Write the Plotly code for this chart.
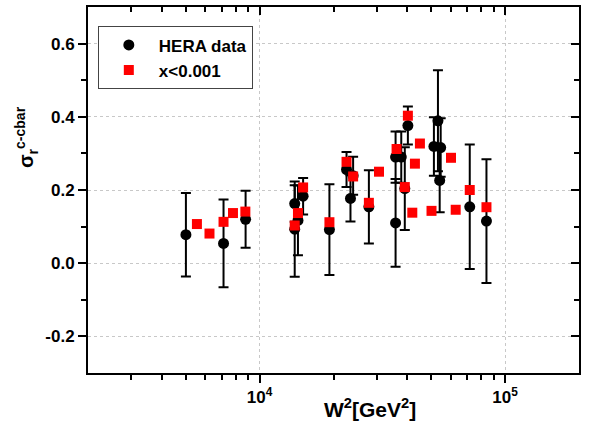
import plotly.graph_objects as go

# HERA data (black circles with error bars)
hera_w2 = [5010, 7130, 8770, 13900, 13900, 14330, 15040, 19250, 22600, 23450, 24040,
           27870, 35800, 35800, 37760, 39030, 40180, 51290, 53270, 54140, 54650,
           71780, 83960]
hera_sigma = [0.078, 0.054, 0.120, 0.093, 0.163, 0.117, 0.183, 0.092, 0.256, 0.177, 0.239,
              0.154, 0.110, 0.290, 0.290, 0.204, 0.376, 0.319, 0.389, 0.226, 0.316,
              0.154, 0.115]
hera_err = [0.114, 0.120, 0.078, 0.130, 0.050, 0.095, 0.050, 0.124, 0.048, 0.063, 0.052,
            0.100, 0.120, 0.070, 0.070, 0.113, 0.052, 0.080, 0.138, 0.087, 0.080,
            0.170, 0.169]

# model x<0.001 (red squares)
model_w2 = [5555, 6250, 7130, 7790, 8750, 13900, 14330, 15040, 19250, 22600, 24040,
            27870, 30650, 36140, 39030, 40180, 41880, 42920, 44980, 50150, 60200,
            62920, 71780, 83960]
model_sigma = [0.107, 0.081, 0.113, 0.137, 0.141, 0.103, 0.137, 0.207, 0.112, 0.277, 0.237,
               0.165, 0.250, 0.312, 0.208, 0.403, 0.138, 0.272, 0.327, 0.143, 0.288,
               0.146, 0.200, 0.153]

x_major = [1e4, 1e5]
x_major_text = ["10<sup>4</sup>", "10<sup>5</sup>"]
x_minor = [3000, 4000, 5000, 6000, 7000, 8000, 9000,
           20000, 30000, 40000, 50000, 60000, 70000, 80000, 90000]
y_major = [-0.2, 0.0, 0.2, 0.4, 0.6]
y_major_text = ["-0.2", "0.0", "0.2", "0.4", "0.6"]
y_minor = [-0.1, 0.1, 0.3, 0.5]

FONT = "Liberation Sans"

fig = go.Figure()
fig.add_trace(go.Scatter(
    x=hera_w2, y=hera_sigma, mode="markers", name="HERA data",
    marker=dict(symbol="circle", size=11, color="black"),
    error_y=dict(type="data", array=hera_err, visible=True, color="black",
                 thickness=2, width=5),
))
fig.add_trace(go.Scatter(
    x=model_w2, y=model_sigma, mode="markers", name="x<0.001",
    marker=dict(symbol="square", size=10, color="#ff0000"),
))
# invisible trace on mirrored axes (top / right with inward ticks)
fig.add_trace(go.Scatter(x=[], y=[], xaxis="x2", yaxis="y2", showlegend=False,
                         hoverinfo="skip"))

xr = [3.30103, 5.30103]
yr = [-0.3, 0.7]
tickfont = dict(family=FONT, size=17, color="black", weight="bold")

fig.update_layout(
    width=592, height=427,
    margin=dict(l=88, r=13, t=7, b=54),
    paper_bgcolor="white", plot_bgcolor="white",
    showlegend=True,
    legend=dict(x=0.02, y=0.947, xanchor="left", yanchor="top",
                bgcolor="white", bordercolor="#444444", borderwidth=1,
                font=dict(family=FONT, size=17, color="black", weight="bold"),
                itemwidth=50, tracegroupgap=0),
    xaxis=dict(type="log", range=xr, tickmode="array", tickvals=x_major,
               ticktext=x_major_text,
               ticks="outside", ticklen=8, tickwidth=2, tickcolor="black",
               showline=True, linewidth=2, linecolor="black", mirror=False,
               showgrid=True, gridcolor="#c8c8c8", griddash="dot", gridwidth=1,
               zeroline=False, tickfont=tickfont,
               minor=dict(tickvals=x_minor, ticks="outside", ticklen=5,
                          tickwidth=2, tickcolor="black", showgrid=False)),
    xaxis2=dict(type="log", range=xr, overlaying="x", side="top", matches="x",
                tickvals=x_major, showticklabels=False,
                ticks="inside", ticklen=8, tickwidth=2, tickcolor="black",
                showline=True, linewidth=2, linecolor="black",
                showgrid=False, zeroline=False,
                minor=dict(tickvals=x_minor, ticks="inside", ticklen=5,
                           tickwidth=2, tickcolor="black", showgrid=False)),
    yaxis=dict(range=yr, tickmode="array", tickvals=y_major, ticktext=y_major_text,
               ticks="outside", ticklen=8, tickwidth=2, tickcolor="black",
               showline=True, linewidth=2, linecolor="black", mirror=False,
               showgrid=True, gridcolor="#c8c8c8", griddash="dot", gridwidth=1,
               zeroline=False, tickfont=tickfont,
               minor=dict(tickvals=y_minor, ticks="outside", ticklen=5,
                          tickwidth=2, tickcolor="black", showgrid=False)),
    yaxis2=dict(range=yr, overlaying="y", side="right", matches="y",
                tickvals=y_major, showticklabels=False,
                ticks="inside", ticklen=8, tickwidth=2, tickcolor="black",
                showline=True, linewidth=2, linecolor="black",
                showgrid=False, zeroline=False,
                minor=dict(tickvals=y_minor, ticks="inside", ticklen=5,
                           tickwidth=2, tickcolor="black", showgrid=False)),
    annotations=[
        dict(text="W<sup>2</sup>[GeV<sup>2</sup>]", xref="paper", yref="paper",
             x=(370 - 88) / 491, y=-(408 - 373.3) / 366.6, xanchor="center",
             yanchor="middle", showarrow=False,
             font=dict(family=FONT, size=21, color="black", weight="bold")),
        dict(text="σ<sub>r</sub><sup>c-cbar</sup>", xref="paper", yref="paper",
             x=-(88 - 26) / 491, y=(373.3 - 137) / 366.6, xanchor="center",
             yanchor="middle", textangle=-90, showarrow=False,
             font=dict(family=FONT, size=20, color="black", weight="bold")),
    ],
)

fig.write_html("out.html",
               config={"displayModeBar": False},
               post_script="document.body.style.margin='0';"
                           "document.body.style.padding='0';")
